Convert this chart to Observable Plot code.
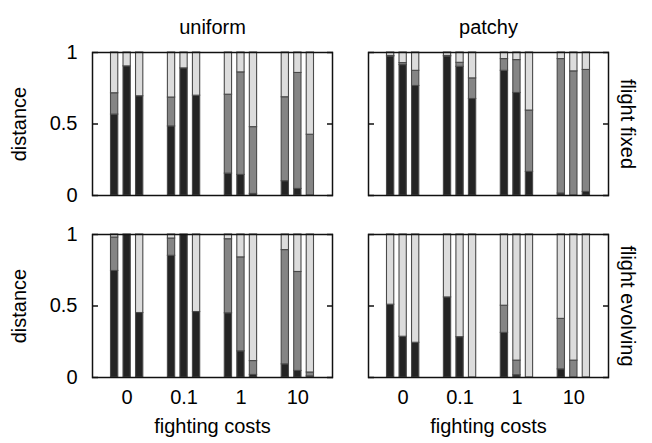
<!DOCTYPE html>
<html><head><meta charset="utf-8">
<script src="https://cdn.jsdelivr.net/npm/d3@7"></script>
<script src="https://cdn.jsdelivr.net/npm/@observablehq/plot@0.6"></script>
<style>body{margin:0;background:#fff} svg{display:block}</style>
</head><body><div id="chart"></div>
<script>
const costs = ["0", "0.1", "1", "10"];
const landscapes = ["uniform", "patchy"];
const flights = ["flight fixed", "flight evolving"];
const segments = ["black", "grey", "light"];
const yTicks = [0, 0.5, 1];

// segment heights per bar: 4 cost groups x 3 bars (light = remainder to 1)
const blackUniformFixed = [0.566, 0.903, 0.694, 0.483, 0.889, 0.698, 0.153, 0.144, 0.011, 0.100, 0.046, 0.000];
const greyUniformFixed  = [0.149, 0.000, 0.000, 0.202, 0.000, 0.000, 0.552, 0.717, 0.467, 0.587, 0.811, 0.425];
const blackPatchyFixed  = [0.972, 0.912, 0.766, 0.972, 0.900, 0.675, 0.872, 0.717, 0.165, 0.014, 0.000, 0.025];
const greyPatchyFixed   = [0.004, 0.014, 0.106, 0.004, 0.028, 0.144, 0.082, 0.230, 0.429, 0.940, 0.868, 0.853];
const blackUniformEvol  = [0.745, 1.000, 0.451, 0.851, 1.000, 0.458, 0.449, 0.183, 0.018, 0.092, 0.046, 0.008];
const greyUniformEvol   = [0.234, 0.000, 0.000, 0.121, 0.000, 0.000, 0.518, 0.657, 0.097, 0.799, 0.692, 0.027];
const blackPatchyEvol   = [0.509, 0.285, 0.243, 0.560, 0.282, 0.000, 0.312, 0.016, 0.000, 0.057, 0.000, 0.000];
const greyPatchyEvol    = [0.000, 0.000, 0.000, 0.000, 0.000, 0.000, 0.190, 0.102, 0.000, 0.353, 0.118, 0.000];

const panels = [
  {land: landscapes[0], flight: flights[0], black: blackUniformFixed, grey: greyUniformFixed},
  {land: landscapes[1], flight: flights[0], black: blackPatchyFixed, grey: greyPatchyFixed},
  {land: landscapes[0], flight: flights[1], black: blackUniformEvol, grey: greyUniformEvol},
  {land: landscapes[1], flight: flights[1], black: blackPatchyEvol, grey: greyPatchyEvol}
];

const rows = [];
for (const p of panels) {
  p.black.forEach((b, i) => {
    const g = p.grey[i];
    const group = Math.floor(i / 3), bar = i % 3;
    const parts = [[b, 0, b], [g, b, b + g], [1 - b - g, b + g, 1]];
    parts.forEach(([v, y1, y2], s) => {
      if (v > 0.0005) rows.push({land: p.land, flight: p.flight, group, bar, segment: segments[s], y1, y2});
    });
  });
}

const off = 0.22, half = 0.064;
const chart = Plot.plot({
  width: 652,
  height: 443,
  marginLeft: 92,
  marginRight: 44,
  marginTop: 52,
  marginBottom: 65,
  style: {fontFamily: "'Liberation Sans', Arial, sans-serif", fontSize: "20px", color: "#000", background: "#fff"},
  fx: {domain: landscapes, axis: null, paddingInner: 36 / 276, paddingOuter: 0},
  fy: {domain: flights, axis: null, paddingInner: 0.2133, paddingOuter: 0},
  x: {type: "linear", domain: [-0.609, 3.609]},
  y: {domain: [0, 1]},
  color: {domain: segments, range: ["#242424", "#858585", "#dcdcdc"]},
  marks: [
    Plot.rect(rows, {
      x1: d => d.group + (d.bar - 1) * off - half,
      x2: d => d.group + (d.bar - 1) * off + half,
      y1: "y1", y2: "y2",
      fx: "land", fy: "flight",
      fill: "segment",
      stroke: "#4a4a4a", strokeWidth: 1.1
    }),
    Plot.frame({stroke: "#111", strokeWidth: 1.5}),
    Plot.axisY({anchor: "left", facetAnchor: null, ticks: yTicks, tickSize: -6, tickFormat: () => "", label: null, stroke: "#111", strokeWidth: 1.5}),
    Plot.axisY({anchor: "right", facetAnchor: null, ticks: yTicks, tickSize: -6, tickFormat: () => "", label: null, stroke: "#111", strokeWidth: 1.5}),
    Plot.axisY({anchor: "left", ticks: yTicks, tickSize: 0, tickPadding: 15, tickFormat: d => String(d), label: null}),
    Plot.axisX({ticks: [0, 1, 2, 3], tickSize: 0, tickPadding: 12, tickFormat: i => costs[i], label: null}),
    Plot.text(landscapes.map(l => ({land: l, flight: flights[0]})), {fx: "land", fy: "flight", text: "land", frameAnchor: "top", dy: -19, lineAnchor: "bottom"}),
    Plot.text(landscapes.map(l => ({land: l, flight: flights[1]})), {fx: "land", fy: "flight", text: () => "fighting costs", frameAnchor: "bottom", dy: 55, lineAnchor: "bottom"}),
    Plot.text(flights.map(f => ({land: landscapes[0], flight: f})), {fx: "land", fy: "flight", text: () => "distance", frameAnchor: "left", dx: -73, rotate: -90, textAnchor: "middle"}),
    Plot.text(flights.map(f => ({land: landscapes[1], flight: f})), {fx: "land", fy: "flight", text: "flight", frameAnchor: "right", dx: 19, rotate: 90, textAnchor: "middle"})
  ]
});
document.getElementById("chart").appendChild(chart);
</script>
</body></html>
